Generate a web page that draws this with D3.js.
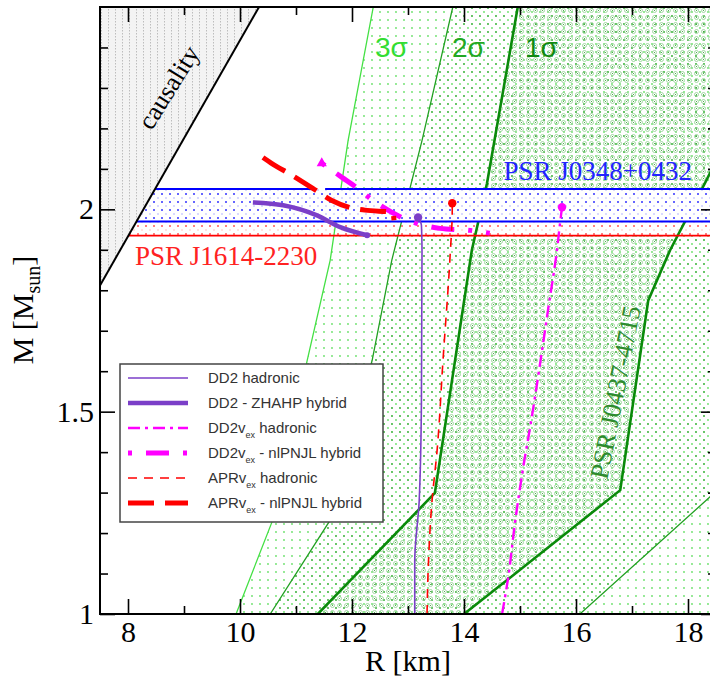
<!DOCTYPE html>
<html>
<head>
<meta charset="utf-8">
<script src="https://cdn.jsdelivr.net/npm/d3@7"></script>
<style>
  body { margin: 0; background: #fff; }
</style>
</head>
<body>
<div id="chart"></div>
<script>
// ---- data (R in km, M in solar masses) ----
const xMajorTicks = [8, 10, 12, 14, 16, 18];
const xMinorTicks = [9, 11, 13, 15, 17];
const yMajorTicks = [1, 1.5, 2];
const yMinorTicks = [1.1, 1.2, 1.3, 1.4, 1.6, 1.7, 1.8, 1.9, 2.1, 2.2, 2.3, 2.4];

// causality limit
const causalR = [7.5, 10.34];
const causalM = [1.812, 2.5];

// PSR J0437-4715 contours
const sig3LeftR = [9.93, 10.57, 11.2, 11.61, 11.93, 12.38];
const sig3LeftM = [1.0, 1.227, 1.627, 1.874, 2.17, 2.5];
const sig2LeftR = [10.54, 11.61, 12.36, 12.71, 13.25, 13.8];
const sig2LeftM = [1.0, 1.232, 1.627, 1.874, 2.17, 2.5];
const sig2RightR = [16.07, 18.39, 20.0, 21.0];
const sig2RightM = [1.0, 1.289, 1.49, 2.6];
const sig1LeftR = [11.39, 13.48, 14.14, 14.41, 14.96];
const sig1LeftM = [1.0, 1.299, 1.899, 2.064, 2.5];
const sig1RightR = [14.0, 14.77, 16.79, 17.29, 17.68, 18.3, 19.9];
const sig1RightM = [1.0, 1.084, 1.306, 1.775, 1.899, 2.064, 2.5];

// pulsar mass bands
const j0348M = [1.97, 2.05];
const j0348GapR = [11.3, 11.52];
const j1614M = [1.935, 2.01];

// mass-radius curves
const dd2HadR = [13.12, 13.12, 13.2, 13.24, 13.25, 13.24, 13.18];
const dd2HadM = [1.0, 1.13, 1.28, 1.53, 1.9, 1.96, 1.98];
const dd2HybR = [10.23, 10.77, 11.375, 11.79, 12.27];
const dd2HybM = [2.017, 2.01, 1.985, 1.956, 1.936];
const dd2vexHadR = [14.68, 14.79, 14.91, 15.05, 15.21, 15.36, 15.5, 15.66, 15.71, 15.75];
const dd2vexHadM = [1.0, 1.091, 1.225, 1.356, 1.486, 1.62, 1.751, 1.899, 1.96, 2.005];
const dd2vexHybR = [11.46, 11.82, 12.05, 12.375, 13.0, 13.57, 14.11, 14.46];
const dd2vexHybM = [2.114, 2.079, 2.057, 2.022, 1.973, 1.953, 1.948, 1.941];
const aprHadR = [13.34, 13.36, 13.43, 13.52, 13.625, 13.75, 13.79, 13.79];
const aprHadM = [1.0, 1.109, 1.281, 1.405, 1.627, 1.881, 1.998, 2.015];
const aprHybR = [10.41, 10.55, 10.93, 11.3, 11.64, 11.95, 12.23, 12.73, 12.75];
const aprHybM = [2.128, 2.115, 2.084, 2.052, 2.022, 2.005, 1.998, 1.993, 1.973];

const legendLabels = [
  ["DD2 hadronic"],
  ["DD2 - ZHAHP hybrid"],
  ["DD2v", "ex", " hadronic"],
  ["DD2v", "ex", " - nlPNJL hybrid"],
  ["APRv", "ex", " hadronic"],
  ["APRv", "ex", " - nlPNJL hybrid"]
];

// ---- layout ----
const width = 710, height = 678;
const plot = { left: 100, right: 716, top: 7, bottom: 614 };
const serif = "'Liberation Serif', 'Times New Roman', serif";
const sans = "'Liberation Sans', Arial, sans-serif";

const x = d3.scaleLinear().domain([7.5, 18.5]).range([plot.left, plot.right]);
const y = d3.scaleLinear().domain([1, 2.5]).range([plot.bottom, plot.top]);

const zip = (rs, ms) => rs.map((r, i) => [r, ms[i]]);
const line = d3.line().x(d => x(d[0])).y(d => y(d[1]));
const smooth = d3.line().x(d => x(d[0])).y(d => y(d[1])).curve(d3.curveCatmullRom.alpha(0.5));
const smoothX = d3.line().x(d => x(d[0])).y(d => y(d[1])).curve(d3.curveMonotoneX);
const smoothY = d3.line().x(d => x(d[0])).y(d => y(d[1])).curve(d3.curveMonotoneY);

const svg = d3.select("#chart").append("svg")
  .attr("width", width).attr("height", height);

// patterns
const defs = svg.append("defs");
function dotPattern(id, size, dots, bg) {
  const p = defs.append("pattern").attr("id", id)
    .attr("patternUnits", "userSpaceOnUse").attr("width", size).attr("height", size);
  if (bg) p.append("rect").attr("width", size).attr("height", size).attr("fill", bg);
  dots.forEach(d => p.append("circle").attr("cx", d[0]).attr("cy", d[1]).attr("r", d[2]).attr("fill", d[3]));
  return p;
}
dotPattern("p3", 8, [[4, 4, 0.9, "#66e066"]]);
dotPattern("p2", 8, [[0, 0, 0.9, "#22a822"], [8, 8, 0.9, "#22a822"], [0, 8, 0.9, "#22a822"], [8, 0, 0.9, "#22a822"]]);
const p1 = defs.append("pattern").attr("id", "p1")
  .attr("patternUnits", "userSpaceOnUse").attr("width", 7).attr("height", 7);
p1.append("circle").attr("cx", 3.5).attr("cy", 3.5).attr("r", 2)
  .attr("fill", "none").attr("stroke", "#8fcf8f").attr("stroke-width", 0.8);
p1.append("circle").attr("cx", 3.5).attr("cy", 3.5).attr("r", 0.6).attr("fill", "#3a9a3a");
dotPattern("pBlue", 8, [[2, 2, 1, "#3333ff"], [6, 6, 0.8, "#aaaaff"]], "#fff");
dotPattern("pRed", 8, [[2, 2, 1, "#ff5555"], [6, 6, 0.8, "#ffbbbb"]], "#fff");
const pc = defs.append("pattern").attr("id", "pCausal")
  .attr("patternUnits", "userSpaceOnUse").attr("width", 7).attr("height", 3);
pc.append("rect").attr("width", 7).attr("height", 3).attr("fill", "#f3f3f3");
pc.append("rect").attr("x", 3).attr("width", 1).attr("height", 1.5).attr("fill", "#bdbdbd");

defs.append("clipPath").attr("id", "clip").append("rect")
  .attr("x", plot.left).attr("y", plot.top)
  .attr("width", plot.right - plot.left).attr("height", plot.bottom - plot.top);

const g = svg.append("g").attr("clip-path", "url(#clip)");

// green regions
const sig3Poly = zip(sig3LeftR, sig3LeftM).concat([[25, 2.6], [25, 1.0]]);
const sig2Poly = zip(sig2LeftR, sig2LeftM).concat(zip(sig2RightR, sig2RightM).reverse());
const sig1Poly = zip(sig1LeftR, sig1LeftM).concat(zip(sig1RightR, sig1RightM).reverse());
g.append("path").attr("d", line(sig3Poly) + "Z").attr("fill", "url(#p3)");
g.append("path").attr("d", line(sig2Poly) + "Z").attr("fill", "url(#p2)");
g.append("path").attr("d", line(sig1Poly) + "Z").attr("fill", "url(#p1)");

// J1614 band
g.append("rect")
  .attr("x", plot.left).attr("width", plot.right - plot.left)
  .attr("y", y(j1614M[1])).attr("height", y(j1614M[0]) - y(j1614M[1]))
  .attr("fill", "url(#pRed)");

// contour lines
g.append("path").attr("d", line(zip(sig3LeftR, sig3LeftM)))
  .attr("fill", "none").attr("stroke", "#44e044").attr("stroke-width", 1.3);
[zip(sig2LeftR, sig2LeftM), zip(sig2RightR, sig2RightM)].forEach(pts =>
  g.append("path").attr("d", line(pts))
    .attr("fill", "none").attr("stroke", "#22a022").attr("stroke-width", 1.3));
[zip(sig1LeftR, sig1LeftM), zip(sig1RightR, sig1RightM)].forEach(pts =>
  g.append("path").attr("d", line(pts))
    .attr("fill", "none").attr("stroke", "#0a8a0a").attr("stroke-width", 2.6));

// J0348 band
g.append("rect")
  .attr("x", plot.left).attr("width", plot.right - plot.left)
  .attr("y", y(j0348M[1])).attr("height", y(j0348M[0]) - y(j0348M[1]))
  .attr("fill", "url(#pBlue)");
const blueLines = [
  [[7.5, j0348M[1]], [j0348GapR[0], j0348M[1]]],
  [[j0348GapR[1], j0348M[1]], [19, j0348M[1]]],
  [[7.5, j0348M[0]], [19, j0348M[0]]]
];
blueLines.forEach(pts => g.append("path").attr("d", line(pts))
  .attr("stroke", "#0000ff").attr("stroke-width", 2).attr("fill", "none"));
g.append("path").attr("d", line([[7.5, j1614M[0]], [19, j1614M[0]]]))
  .attr("stroke", "#ff0000").attr("stroke-width", 1.6).attr("fill", "none");

// causality
const causalPts = zip(causalR, causalM);
g.append("path").attr("d", line(causalPts.concat([[7.5, 2.5]])) + "Z")
  .attr("fill", "url(#pCausal)");
g.append("path").attr("d", line(causalPts))
  .attr("stroke", "#000").attr("stroke-width", 2).attr("fill", "none");

// curves
const purple = "#7b3fc8", magenta = "#ff00ff", red = "#ff0000";
const styles = [
  { color: purple, w: 1.6, dash: null },
  { color: purple, w: 4.5, dash: null },
  { color: magenta, w: 2.4, dash: "12,5,3,5" },
  { color: magenta, w: 5, dash: "4,14,23,14" },
  { color: red, w: 1.6, dash: "9,7" },
  { color: red, w: 5, dash: "26,11" }
];
const curves = [
  zip(dd2HadR, dd2HadM), zip(dd2HybR, dd2HybM),
  zip(dd2vexHadR, dd2vexHadM), zip(dd2vexHybR, dd2vexHybM),
  zip(aprHadR, aprHadM), zip(aprHybR, aprHybM)
];
curves.forEach((pts, i) => {
  const s = styles[i];
  const gen = i % 2 === 0 ? smoothY : smoothX;
  g.append("path").attr("d", gen(pts))
    .attr("fill", "none").attr("stroke", s.color).attr("stroke-width", s.w)
    .attr("stroke-dasharray", s.dash);
});
// maximum-mass dots on the hadronic branches
[0, 2, 4].forEach(i => {
  const last = curves[i][curves[i].length - 1];
  g.append("circle").attr("cx", x(last[0])).attr("cy", y(last[1]))
    .attr("r", 4.2).attr("fill", styles[i].color);
});
g.append("circle").attr("cx", x(dd2HybR[dd2HybR.length - 1])).attr("cy", y(dd2HybM[dd2HybM.length - 1]))
  .attr("r", 3).attr("fill", purple);
g.append("path")
  .attr("d", d3.symbol(d3.symbolTriangle, 45)())
  .attr("transform", `translate(${x(dd2vexHybR[0])},${y(dd2vexHybM[0])})`)
  .attr("fill", magenta);

// annotations
g.append("text").attr("transform", "translate(176,92) rotate(-58)")
  .attr("text-anchor", "middle").attr("font-family", serif).attr("font-size", 26)
  .text("causality");
const sigLabels = [["3σ", 375, "#33dd33"], ["2σ", 452, "#22a822"], ["1σ", 525, "#108a10"]];
sigLabels.forEach(s => g.append("text").attr("x", s[1]).attr("y", 57)
  .attr("font-family", sans).attr("font-size", 28).attr("fill", s[2]).text(s[0]));
g.append("text").attr("x", 692).attr("y", 180).attr("text-anchor", "end")
  .attr("font-family", serif).attr("font-size", 27).attr("fill", "#2222ff")
  .text("PSR J0348+0432");
g.append("text").attr("x", 135).attr("y", 265)
  .attr("font-family", serif).attr("font-size", 27).attr("fill", "#ff2222")
  .text("PSR J1614-2230");
g.append("text").attr("transform", "translate(624,394) rotate(-79)")
  .attr("text-anchor", "middle").attr("font-family", serif).attr("font-size", 26)
  .attr("fill", "#2e8b2e").text("PSR J0437-4715");

// legend
const lg = svg.append("g");
lg.append("rect").attr("x", 120).attr("y", 364).attr("width", 263).attr("height", 158)
  .attr("fill", "#fff").attr("stroke", "#444").attr("stroke-width", 1.5);
const ly = d3.scalePoint().domain(d3.range(legendLabels.length)).range([378, 503]);
legendLabels.forEach((parts, i) => {
  const s = styles[i];
  lg.append("line").attr("x1", 128).attr("x2", 188).attr("y1", ly(i)).attr("y2", ly(i))
    .attr("stroke", s.color).attr("stroke-width", s.w).attr("stroke-dasharray", s.dash);
  const t = lg.append("text").attr("x", 208).attr("y", ly(i) + 5)
    .attr("font-family", sans).attr("font-size", 15).attr("fill", "#333");
  parts.forEach((p, j) => {
    if (j % 2 === 1) {
      t.append("tspan").attr("font-size", 9).attr("dy", 5).text(p);
    } else {
      t.append("tspan").attr("dy", j ? -5 : 0).text(p);
    }
  });
});

// axes
function styleAxis(sel) {
  sel.select(".domain").remove();
  sel.selectAll("line").attr("stroke", "#000").attr("stroke-width", 1.6);
  sel.selectAll("text").attr("font-family", serif).attr("font-size", 30).attr("fill", "#000");
}
svg.append("g").attr("transform", `translate(0,${plot.bottom})`)
  .call(d3.axisBottom(x).tickValues(xMajorTicks).tickSize(-15).tickPadding(7).tickFormat(d3.format("d")))
  .call(styleAxis);
svg.append("g").attr("transform", `translate(0,${plot.bottom})`)
  .call(d3.axisBottom(x).tickValues(xMinorTicks).tickSize(-8).tickFormat(""))
  .call(styleAxis);
svg.append("g").attr("transform", `translate(0,${plot.top})`)
  .call(d3.axisTop(x).tickValues(xMajorTicks).tickSize(-15).tickFormat(""))
  .call(styleAxis);
svg.append("g").attr("transform", `translate(0,${plot.top})`)
  .call(d3.axisTop(x).tickValues(xMinorTicks).tickSize(-8).tickFormat(""))
  .call(styleAxis);
svg.append("g").attr("transform", `translate(${plot.left},0)`)
  .call(d3.axisLeft(y).tickValues(yMajorTicks).tickSize(-15).tickPadding(6).tickFormat(d => String(d)))
  .call(styleAxis);
svg.append("g").attr("transform", `translate(${plot.left},0)`)
  .call(d3.axisLeft(y).tickValues(yMinorTicks).tickSize(-8).tickFormat(""))
  .call(styleAxis);
svg.append("g").attr("transform", `translate(${plot.right},0)`)
  .call(d3.axisRight(y).tickValues(yMajorTicks).tickSize(-15).tickFormat(""))
  .call(styleAxis);
svg.append("g").attr("transform", `translate(${plot.right},0)`)
  .call(d3.axisRight(y).tickValues(yMinorTicks).tickSize(-8).tickFormat(""))
  .call(styleAxis);
svg.append("rect").attr("x", plot.left).attr("y", plot.top)
  .attr("width", plot.right - plot.left).attr("height", plot.bottom - plot.top)
  .attr("fill", "none").attr("stroke", "#000").attr("stroke-width", 2);

// axis titles
svg.append("text").attr("x", (plot.left + plot.right) / 2).attr("y", 671)
  .attr("text-anchor", "middle").attr("font-family", serif).attr("font-size", 30)
  .text("R [km]");
const yt = svg.append("text").attr("transform", "translate(33,310) rotate(-90)")
  .attr("text-anchor", "middle").attr("font-family", serif).attr("font-size", 30);
yt.append("tspan").text("M [M");
yt.append("tspan").attr("font-size", 20).attr("dy", 7).text("sun");
yt.append("tspan").attr("dy", -7).text("]");
</script>
</body>
</html>
